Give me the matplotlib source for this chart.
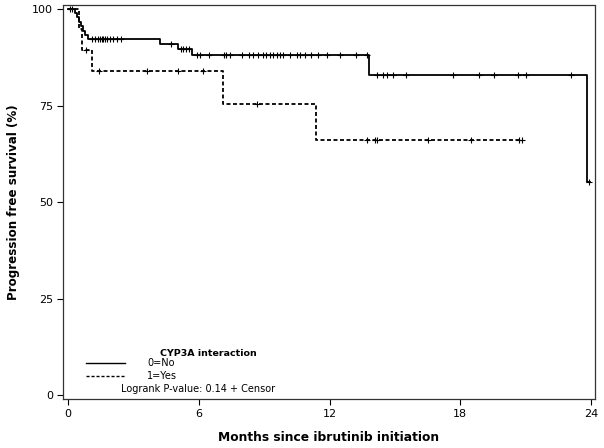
import numpy as np
import matplotlib
matplotlib.use("Agg")
import matplotlib.pyplot as plt

# KM curve for 0=No (solid): step times and survival (%) after each step
no_t = [0.0, 0.3, 0.4, 0.5, 0.6, 0.7, 0.8, 0.9, 4.22, 5.03, 5.67, 13.8, 23.8]
no_s = [100.0, 98.9, 97.8, 96.7, 95.6, 94.4, 93.3, 92.2, 90.9, 89.6, 88.1, 82.9, 55.2]
no_end = 23.95
no_cens = [0.1, 0.2, 1.09, 1.24, 1.39, 1.47, 1.55, 1.62, 1.7, 1.77, 1.93, 2.08,
           2.23, 2.42, 4.71, 5.17, 5.29, 5.41, 5.55, 5.9, 6.06, 6.47, 7.17, 7.25,
           7.43, 7.97, 8.3, 8.5, 8.73, 8.96, 9.08, 9.27, 9.42, 9.57, 9.72, 9.88,
           10.18, 10.49, 10.64, 10.87, 11.13, 11.48, 11.87, 12.48, 13.2, 13.7,
           14.19, 14.46, 14.62, 14.92, 15.5, 17.65, 18.87, 19.56, 20.63, 21.0,
           23.1, 23.9]

# KM curve for 1=Yes (dashed)
yes_t = [0.0, 0.5, 0.62, 1.08, 7.13, 11.4]
yes_s = [100.0, 94.7, 89.5, 83.9, 75.4, 66.0]
yes_end = 20.83
yes_cens = [0.83, 1.44, 3.64, 5.06, 6.21, 8.69, 13.7, 14.08, 14.16, 16.53,
            18.49, 20.7, 20.81]

x_ticks = [0, 6, 12, 18, 24]
y_ticks = [0, 25, 50, 75, 100]


def km_at(t, times, surv):
    idx = np.searchsorted(times, t, side="right") - 1
    return np.asarray(surv)[idx]


fig = plt.figure(figsize=(6.04, 4.48), dpi=100)
ax = fig.add_axes([63 / 604, 1 - 399 / 448, (595 - 63) / 604, (399 - 5.5) / 448])

for times, surv, end, cens, style in [
    (no_t, no_s, no_end, no_cens, dict(linestyle="-")),
    (yes_t, yes_s, yes_end, yes_cens, dict(dashes=(2.2, 1.4))),
]:
    tt = list(times) + [end]
    ss = list(surv) + [surv[-1]]
    ax.step(tt, ss, where="post", color="black", lw=1.3, **style)
    ax.plot(cens, km_at(cens, times, surv), "+", color="black", ms=4.5, mew=0.8)

ax.set_xlim(-0.23, 24.18)
ax.set_ylim(-1.0, 100.9)
ax.set_xticks(x_ticks)
ax.set_yticks(y_ticks)
ax.tick_params(direction="out", length=4, width=0.8, labelsize=8, pad=3)
for sp in ax.spines.values():
    sp.set_linewidth(0.9)
    sp.set_color("#333333")

ax.set_xlabel("Months since ibrutinib initiation", fontsize=8.8, fontweight="bold", labelpad=9)
ax.set_ylabel("Progression free survival (%)", fontsize=8.6, fontweight="bold", labelpad=9)

# legend drawn in figure pixel coordinates
def fx(x):
    return x / 604


def fy(y):
    return 1 - y / 448


fig.text(fx(208), fy(353), "CYP3A interaction", fontsize=6.8, fontweight="bold",
         ha="center", va="center")
fig.add_artist(plt.Line2D([fx(86), fx(125)], [fy(363), fy(363)], color="black", lw=1.0))
fig.add_artist(plt.Line2D([fx(86), fx(125)], [fy(376), fy(376)], color="black", lw=1.0,
                          dashes=(2.2, 1.4)))
fig.text(fx(147), fy(363), "0=No", fontsize=7, ha="left", va="center")
fig.text(fx(147), fy(376), "1=Yes", fontsize=7, ha="left", va="center")
fig.text(fx(121), fy(389), "Logrank P-value: 0.14 + Censor", fontsize=7,
         ha="left", va="center")

fig.savefig("out.png", dpi=100)
